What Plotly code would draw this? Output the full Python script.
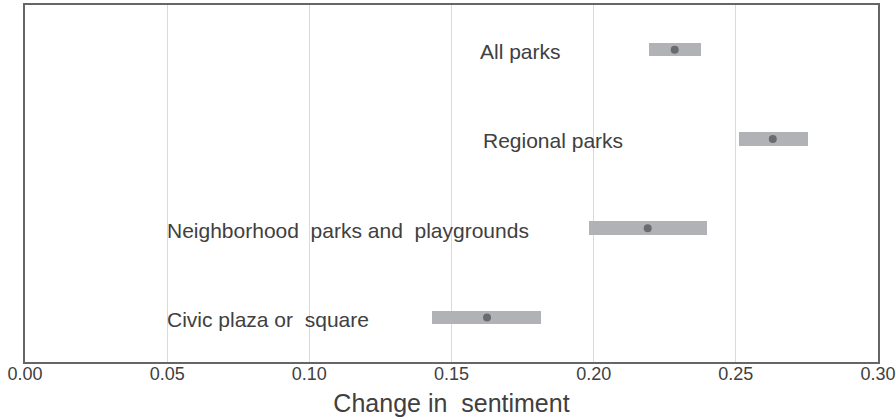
import plotly.graph_objects as go

# Park categories, bottom to top on the y axis
categories = ["Civic plaza or square", "Neighborhood parks and playgrounds",
              "Regional parks", "All parks"]
estimate = [0.1625, 0.2190, 0.2630, 0.2285]
ci_low = [0.1432, 0.1985, 0.2512, 0.2196]
ci_high = [0.1814, 0.2398, 0.2753, 0.2379]
label_x = [0.05, 0.05, 0.161, 0.160]
label_text = ["Civic plaza or  square", "Neighborhood  parks and  playgrounds",
              "Regional parks", "All parks"]

x_ticks = [0.00, 0.05, 0.10, 0.15, 0.20, 0.25, 0.30]

fig = go.Figure()

# Confidence-interval bands
fig.add_trace(go.Bar(
    y=categories,
    x=[h - l for l, h in zip(ci_low, ci_high)],
    base=ci_low,
    orientation="h",
    width=0.15,
    marker=dict(color="#b1b2b6", line=dict(width=0)),
    hoverinfo="skip",
    showlegend=False,
))

# Point estimates
fig.add_trace(go.Scatter(
    y=categories,
    x=estimate,
    mode="markers",
    marker=dict(color="#6a6b70", size=8),
    showlegend=False,
))

# Category labels
for cat, lx, txt in zip(categories, label_x, label_text):
    fig.add_annotation(
        x=lx, y=cat, text=txt,
        xanchor="left", yanchor="middle",
        showarrow=False, yshift=-2, xshift=-2,
        font=dict(family="Liberation Sans, Arial, sans-serif", size=21, color="#404040"),
    )

fig.update_layout(
    width=896,
    height=420,
    autosize=False,
    margin=dict(l=25, r=18, t=5, b=58, autoexpand=False),
    plot_bgcolor="white",
    paper_bgcolor="white",
    xaxis=dict(
        range=[0, 0.30],
        tickvals=x_ticks,
        ticktext=[f"{v:.2f}" for v in x_ticks],
        ticklabeloverflow="allow",
        ticklabelstandoff=-5,
        automargin=False,
        showgrid=True,
        gridcolor="#d9d9d9",
        gridwidth=1,
        zeroline=False,
        showline=True,
        linecolor="#666666",
        linewidth=1.5,
        mirror=True,
        ticks="",
        tickfont=dict(family="Liberation Sans, Arial, sans-serif", size=18, color="#404040"),
        title=dict(text="Change in  sentiment",
                   font=dict(family="Liberation Sans, Arial, sans-serif", size=25, color="#404040"),
                   standoff=11),
    ),
    yaxis=dict(
        type="category",
        categoryorder="array",
        categoryarray=categories,
        range=[-0.5, 3.5],
        automargin=False,
        showticklabels=False,
        showgrid=False,
        zeroline=False,
        showline=True,
        linecolor="#666666",
        linewidth=1.5,
        mirror=True,
        ticks="",
    ),
    bargap=0,
)

fig.write_html("out.html")
